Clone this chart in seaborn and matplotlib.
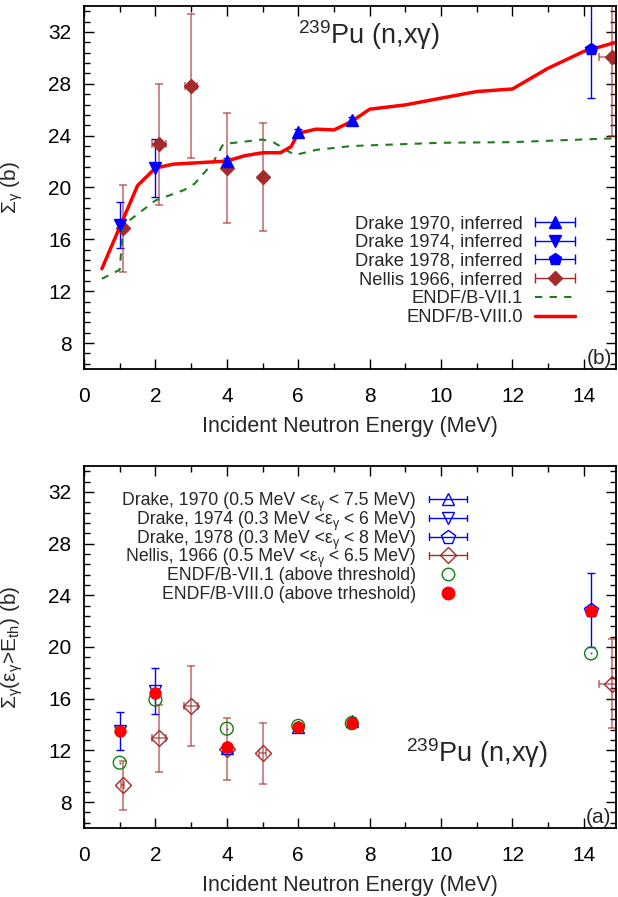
import numpy as np
import pandas as pd
import matplotlib
matplotlib.use('Agg')
import matplotlib.pyplot as plt
import seaborn as sns
from matplotlib.ticker import AutoMinorLocator
from matplotlib.lines import Line2D
from matplotlib.legend_handler import HandlerLine2D, HandlerTuple

# ---------------- top panel (b): inferred total gamma production ----------------
top_d70_e = [4.0, 6.0, 7.5]
top_d70_s = [22.06, 24.26, 25.2]
top_d70_err = [0.25, 0.25, 0.25]

top_d74_e = [1.0, 2.0]
top_d74_s = [17.1, 21.5]
top_d74_err = [1.8, 2.27]

top_d78_e = [14.2]
top_d78_s = [30.7]
top_d78_err = [3.83]

top_nel_e = [1.08, 2.1, 3.0, 4.0, 5.0, 14.8]
top_nel_s = [16.84, 23.33, 27.84, 21.5, 20.8, 30.05]
top_nel_err = [3.36, 4.67, 5.58, 4.27, 4.15, 6.05]
top_nel_xerr = [0.0, 0.2, 0.17, 0.0, 0.0, 0.38]

endf71_e = [0.5, 1.0, 1.1, 2.0, 2.8, 3.1, 3.6, 3.9, 5.0, 5.3, 5.9, 6.5, 7.5, 10.0, 12.0, 14.9]
endf71_s = [12.96, 13.65, 17.1, 19.0, 19.8, 20.3, 21.86, 23.35, 23.7, 23.5, 22.5, 22.9, 23.2, 23.45, 23.5, 23.8]

endf80_e = [0.5, 1.5, 2.0, 2.5, 3.7, 4.0, 4.5, 5.0, 5.5, 5.8, 6.0, 6.5, 7.0, 7.5, 8.0, 9.0,
            10.0, 11.0, 12.0, 13.0, 14.0, 14.9]
endf80_s = [13.73, 20.15, 21.5, 21.8, 21.99, 22.04, 22.45, 22.68, 22.68, 23.15, 24.18, 24.5,
            24.44, 25.1, 26.04, 26.37, 26.89, 27.4, 27.6, 29.2, 30.5, 31.2]

# ---------------- bottom panel (a): above-threshold gamma production ----------------
bot_d70_e = [4.0, 6.0, 7.5]
bot_d70_s = [12.2, 13.85, 14.25]
bot_d70_err = [0.3, 0.3, 0.3]

bot_d74_e = [1.0, 2.0]
bot_d74_s = [13.5, 16.6]
bot_d74_err = [1.47, 1.75]

bot_d78_e = [14.2]
bot_d78_s = [22.85]
bot_d78_err = [2.85]

bot_nel_e = [1.08, 2.1, 3.0, 4.0, 5.0, 14.8]
bot_nel_s = [9.29, 12.93, 15.43, 12.1, 11.8, 17.17]
bot_nel_err = [1.86, 2.6, 3.1, 2.42, 2.36, 3.43]
bot_nel_xerr = [0.05, 0.2, 0.2, 0.0, 0.1, 0.38]

thr_e = [1.0, 2.0, 4.0, 6.0, 7.5, 14.2]
thr71_s = [11.05, 15.93, 13.68, 13.9, 14.1, 19.5]
thr80_s = [13.5, 16.45, 12.28, 13.8, 14.15, 22.8]

x_ticks = [0, 2, 4, 6, 8, 10, 12, 14]
y_ticks = [8, 12, 16, 20, 24, 28, 32]

legend_top = ['Drake 1970, inferred', 'Drake 1974, inferred', 'Drake 1978, inferred',
              'Nellis 1966, inferred', 'ENDF/B-VII.1', 'ENDF/B-VIII.0']
# bottom legend labels as (text before subscript, subscript, text after subscript)
legend_bot = [('Drake, 1970 (0.5 MeV <ε', 'γ', ' < 7.5 MeV)'),
              ('Drake, 1974 (0.3 MeV <ε', 'γ', ' < 6 MeV)'),
              ('Drake, 1978 (0.3 MeV <ε', 'γ', ' < 8 MeV)'),
              ('Nellis, 1966 (0.5 MeV <ε', 'γ', ' < 6.5 MeV)'),
              ('ENDF/B-VII.1 (above threshold)', '', ''),
              ('ENDF/B-VIII.0 (above trheshold)', '', '')]

# ---------------- style ----------------
sns.set_theme(style='ticks')
plt.rcParams['font.family'] = ['Liberation Sans', 'DejaVu Sans']
plt.rcParams['mathtext.fontset'] = 'custom'
plt.rcParams['mathtext.rm'] = 'Liberation Sans'
plt.rcParams['mathtext.it'] = 'Liberation Sans:italic'
plt.rcParams['mathtext.bf'] = 'Liberation Sans:bold'

BLUE = '#0000ff'
BROWN = '#a52a2a'
GREEN = '#1e7b1e'
CGREEN = '#108010'
RED = '#ff0000'
TICK_FS = 15
LEG_FS = 13.2

W, H = 618, 897
fig = plt.figure(figsize=(W / 100, H / 100), dpi=100)
L, R = 84, 616
ax_top = fig.add_axes([L / W, (H - 369) / H, (R - L) / W, 363 / H])
ax_bot = fig.add_axes([L / W, (H - 828) / H, (R - L) / W, 362 / H])


def style_axes(ax):
    ax.set_xlim(0, 14.9)
    ax.set_ylim(6, 34)
    ax.set_xticks(x_ticks)
    ax.set_yticks(y_ticks)
    ax.xaxis.set_minor_locator(AutoMinorLocator(2))
    ax.yaxis.set_minor_locator(AutoMinorLocator(5))
    ax.tick_params(which='both', direction='in', top=True, right=True, width=1, colors='black')
    ax.tick_params(which='major', length=7, labelsize=TICK_FS)
    ax.tick_params(axis='x', which='major', pad=13)
    ax.tick_params(axis='y', which='major', pad=9)
    ax.tick_params(which='minor', length=4)
    for sp in ax.spines.values():
        sp.set_linewidth(1.3)
        sp.set_color('black')
    ax.set_xlabel('Incident Neutron Energy (MeV)', fontsize=15.5, labelpad=7)


# ---------------- top panel ----------------
ax = ax_top
eb_kw = dict(capsize=3, elinewidth=1, capthick=1, linestyle='none')
ax.errorbar(top_d70_e, top_d70_s, yerr=top_d70_err, fmt='^', color=BLUE, ms=8, **eb_kw)
ax.errorbar(top_d74_e, top_d74_s, yerr=top_d74_err, fmt='v', color=BLUE, ms=8, **eb_kw)
ax.errorbar(top_d78_e, top_d78_s, yerr=top_d78_err, fmt='p', color=BLUE, ms=9, **eb_kw)
ax.errorbar(top_nel_e, top_nel_s, yerr=top_nel_err, xerr=top_nel_xerr, fmt='none',
            ecolor=BROWN, alpha=0.6, capsize=3, elinewidth=1.3, capthick=1.3)
ax.plot(top_nel_e, top_nel_s, 'D', color=BROWN, ms=7, linestyle='none')

df71 = pd.DataFrame({'E': endf71_e, 'S': endf71_s})
df80 = pd.DataFrame({'E': endf80_e, 'S': endf80_s})
sns.lineplot(data=df71, x='E', y='S', ax=ax, color=GREEN, lw=1.5, sort=False,
             estimator=None, linestyle=(0, (3.5, 3.5)), legend=False)
sns.lineplot(data=df80, x='E', y='S', ax=ax, color=RED, lw=2.5, sort=False,
             estimator=None, legend=False)
style_axes(ax)
ax.set_ylabel('Σ$_\\mathregular{γ}$ (b)', fontsize=15)
ax.yaxis.set_label_coords(-0.11, 0.5)
ax.text(0.403, 0.8945, '$\\mathregular{^{239}}$Pu (n,xγ)', transform=ax.transAxes,
        fontsize=19.5, ha='left', va='baseline')
ax.text(0.968, 0.03, '(b)', transform=ax.transAxes, fontsize=TICK_FS, ha='center', va='center')


def err_handle(color, marker, ms, filled=True):
    caps = Line2D([0], [0], color=color, lw=1, marker='|', ms=7, mew=1)
    mk = Line2D([0], [0], color=color, lw=0, marker=marker, ms=ms,
                mfc=color if filled else 'none', mew=1)
    return caps, mk


handles_top, hmap = [], {}
for c, m, ms in [(BLUE, '^', 8), (BLUE, 'v', 8), (BLUE, 'p', 9), (BROWN, 'D', 7)]:
    caps, mk = err_handle(c, m, ms)
    hmap[caps] = HandlerLine2D(numpoints=2, marker_pad=0)
    hmap[mk] = HandlerLine2D(numpoints=1)
    handles_top.append((caps, mk))
handles_top.append(Line2D([0], [0], color=GREEN, lw=1.5, linestyle=(0, (3.5, 3.5))))
handles_top.append(Line2D([0], [0], color=RED, lw=2.5))
hmap[tuple] = HandlerTuple(ndivide=1, pad=0)
ax.legend(handles_top, legend_top, loc='upper right', bbox_to_anchor=(0.923, 0.424),
          frameon=False, markerfirst=False, fontsize=LEG_FS, handlelength=2.2,
          handletextpad=0.65, labelspacing=0.1, borderaxespad=0, borderpad=0,
          handler_map=hmap)

# ---------------- bottom panel ----------------
ax = ax_bot
ax.errorbar(bot_d70_e, bot_d70_s, yerr=bot_d70_err, fmt='^', color=BLUE, ms=9,
            mfc='none', mew=1, **eb_kw)
ax.errorbar(bot_d74_e, bot_d74_s, yerr=bot_d74_err, fmt='v', color=BLUE, ms=9,
            mfc='none', mew=1, **eb_kw)
ax.errorbar(bot_d78_e, bot_d78_s, yerr=bot_d78_err, fmt='p', color=BLUE, ms=10,
            mfc='none', mew=1, **eb_kw)
ax.errorbar(bot_nel_e, bot_nel_s, yerr=bot_nel_err, xerr=bot_nel_xerr, fmt='none',
            ecolor=BROWN, alpha=0.6, capsize=3, elinewidth=1.3, capthick=1.3)
ax.plot(bot_nel_e, bot_nel_s, 'D', color=BROWN, ms=8, mfc='none', mew=1, linestyle='none')

dthr = pd.DataFrame({'E': thr_e, 'S71': thr71_s, 'S80': thr80_s})
sns.scatterplot(data=dthr, x='E', y='S71', ax=ax, marker='o', s=85, facecolor='none',
                edgecolor=CGREEN, linewidth=1, zorder=4, legend=False)
sns.scatterplot(data=dthr, x='E', y='S71', ax=ax, marker='o', s=2, color=CGREEN,
                linewidth=0, zorder=4, legend=False)
sns.scatterplot(data=dthr, x='E', y='S80', ax=ax, marker='o', s=80, color=RED,
                linewidth=0, zorder=5, legend=False)
style_axes(ax)
ax.set_ylabel('Σ$_\\mathregular{γ}$(ε$_\\mathregular{γ}$>E$_\\mathregular{th}$) (b)', fontsize=15)
ax.yaxis.set_label_coords(-0.11, 0.5)
ax.text(0.605, 0.183, '$\\mathregular{^{239}}$Pu (n,xγ)', transform=ax.transAxes,
        fontsize=19.5, ha='left', va='baseline')
ax.text(0.968, 0.03, '(a)', transform=ax.transAxes, fontsize=TICK_FS, ha='center', va='center')

# bottom legend, laid out row by row (fixed row pitch like the original)
h_bot = [
    dict(color=BLUE, lw=1, marker='^', ms=9, mfc='none'),
    dict(color=BLUE, lw=1, marker='v', ms=9, mfc='none'),
    dict(color=BLUE, lw=1, marker='p', ms=10, mfc='none'),
    dict(color=BROWN, lw=1, marker='D', ms=8, mfc='none'),
    dict(color=CGREEN, lw=0, marker='o', ms=9, mfc='none'),
    dict(color=RED, lw=0, marker='o', ms=9),
]
BOT_LEG_FS = 12.7
SUB_FS = 8.8
renderer = fig.canvas.get_renderer()
to_ax = lambda px, py: ((px - L) / (R - L), (828 - py) / 362)
row0, pitch = 499.0, 18.8


def put_right(x_px, y_px, s, fs):
    """right-aligned text whose baseline is at image pixel (x_px, y_px); returns its left edge."""
    tx, ty = to_ax(x_px, y_px)
    t = ax.text(tx, ty, s, transform=ax.transAxes, fontsize=fs, ha='right', va='baseline')
    return t.get_window_extent(renderer).x0


for i, ((left, sub, right), hk) in enumerate(zip(legend_bot, h_bot)):
    yc = row0 + i * pitch
    base = yc + 6.0
    xr = 416.0
    if right:
        xr = put_right(xr, base, right, BOT_LEG_FS)
    if sub:
        xr = put_right(xr, base + 3.0, sub, SUB_FS)
    put_right(xr, base, left, BOT_LEG_FS)

    x0, yy = to_ax(429, yc)
    x1, _ = to_ax(467, yc)
    xm, _ = to_ax(447.5, yc)
    if hk['lw'] > 0:
        ax.plot([x0, x1], [yy, yy], transform=ax.transAxes, color=hk['color'], lw=1,
                clip_on=False)
        ax.plot([x0, x0], [yy - 0.009, yy + 0.009], transform=ax.transAxes,
                color=hk['color'], lw=1, clip_on=False)
        ax.plot([x1, x1], [yy - 0.009, yy + 0.009], transform=ax.transAxes,
                color=hk['color'], lw=1, clip_on=False)
    ax.plot([xm], [yy], transform=ax.transAxes, linestyle='none', marker=hk['marker'],
            ms=hk['ms'], color=hk['color'], mfc=hk.get('mfc', hk['color']), mew=1,
            clip_on=False)

fig.savefig('out.png', dpi=100)
